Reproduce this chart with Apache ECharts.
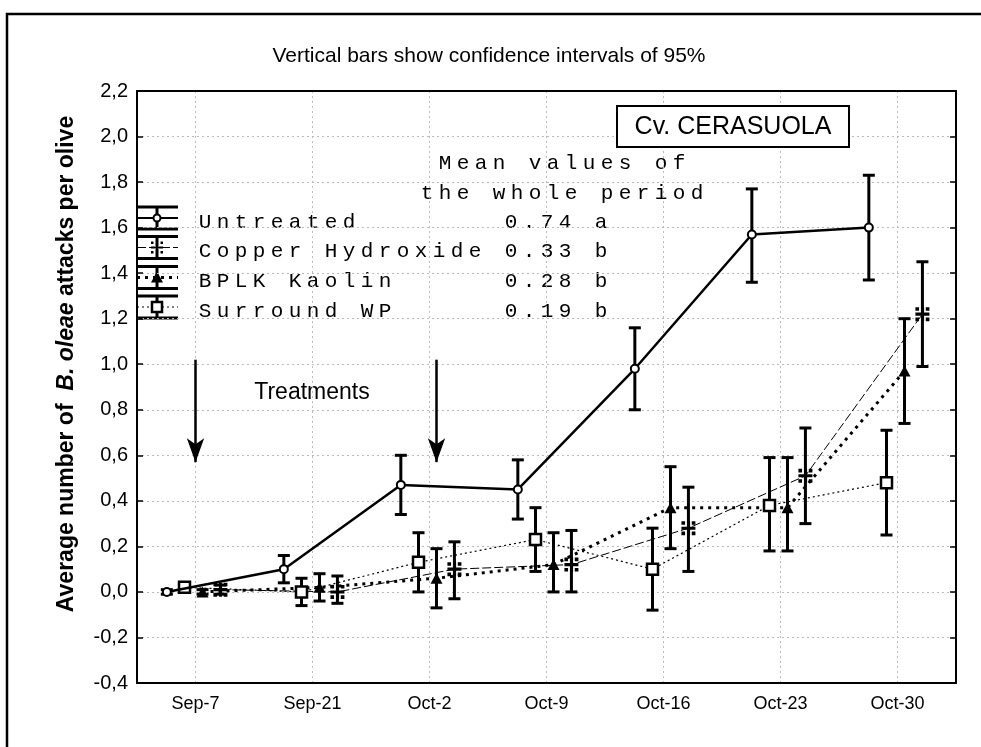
<!DOCTYPE html>
<html>
<head>
<meta charset="utf-8">
<script src="https://cdn.jsdelivr.net/npm/echarts@6/dist/echarts.min.js"></script>
<style>
html, body { margin: 0; padding: 0; background: #fff; }
#chart { width: 981px; height: 747px; }
</style>
</head>
<body>
<div id="chart"></div>
<script>
// sampling dates
var dates = ['Sep-7', 'Sep-21', 'Oct-2', 'Oct-9', 'Oct-16', 'Oct-23', 'Oct-30']

// mean attacks per olive and 95% CI bounds
var untreated = [0.00, 0.10, 0.47, 0.45, 0.98, 1.57, 1.60]
var untreatedLo = [-0.01, 0.04, 0.34, 0.32, 0.80, 1.36, 1.37]
var untreatedHi = [0.01, 0.16, 0.60, 0.58, 1.16, 1.77, 1.83]

var copper = [0.01, 0.00, 0.10, 0.12, 0.28, 0.51, 1.22]
var copperLo = [-0.01, -0.05, -0.03, 0.00, 0.09, 0.30, 0.99]
var copperHi = [0.03, 0.07, 0.22, 0.27, 0.46, 0.72, 1.45]

var kaolin = [0.00, 0.02, 0.06, 0.12, 0.37, 0.37, 0.97]
var kaolinLo = [-0.01, -0.04, -0.07, 0.00, 0.19, 0.18, 0.74]
var kaolinHi = [0.01, 0.08, 0.19, 0.26, 0.55, 0.59, 1.20]

var surround = [0.02, 0.00, 0.13, 0.23, 0.10, 0.38, 0.48]
var surroundLo = [0.00, -0.06, 0.00, 0.09, -0.08, 0.18, 0.25]
var surroundHi = [0.04, 0.06, 0.26, 0.37, 0.28, 0.59, 0.71]

// legend table: whole-period means
var legendNames = ['Untreated', 'Copper Hydroxide', 'BPLK Kaolin', 'Surround WP']
var legendMeans = ['0.74', '0.33', '0.28', '0.19']
var legendLetters = ['a', 'b', 'b', 'b']

// treatment arrows (category position)
var treatmentAt = [0, 2.06]

var FONT = '"Liberation Sans", Arial, sans-serif'
var MONO = '"Liberation Mono", "Courier New", monospace'

var chart = echarts.init(document.getElementById('chart'), null, { renderer: 'canvas' })

function points (vals, off) {
  return vals.map(function (v, i) { return [i + off, v] })
}

function errorSeries (lo, hi, off) {
  return {
    type: 'custom',
    xAxisIndex: 1,
    z: 3,
    silent: true,
    encode: { x: 0, y: [1, 2] },
    data: lo.map(function (v, i) { return [i + off, v, hi[i]] }),
    renderItem: function (params, api) {
      var x = api.value(0)
      var a = api.coord([x, api.value(1)])
      var b = api.coord([x, api.value(2)])
      var hw = 6
      var st = { stroke: '#000', lineWidth: 3 }
      return {
        type: 'group',
        children: [
          { type: 'line', shape: { x1: a[0], y1: a[1], x2: b[0], y2: b[1] }, style: st },
          { type: 'line', shape: { x1: a[0] - hw, y1: a[1], x2: a[0] + hw, y2: a[1] }, style: st },
          { type: 'line', shape: { x1: b[0] - hw, y1: b[1], x2: b[0] + hw, y2: b[1] }, style: st }
        ]
      }
    }
  }
}

var crossPath = 'path://M4,0H6.2V3.9H10V6.1H6.2V10H4V6.1H0V3.9H4Z M0,0H2.6V2.6H0Z M7.4,0H10V2.6H7.4Z M0,7.4H2.6V10H0Z M7.4,7.4H10V10H7.4Z'

// offsets of each treatment around the date
var offU = -0.245
var offS = -0.094
var offK = 0.06
var offC = 0.213

// legend graphics
function spacedText (str, x0, y, pitch) {
  return str.split('').map(function (ch, i) {
    return {
      type: 'text', x: x0 + i * pitch, y: y, silent: true,
      style: { text: ch, font: '21px ' + MONO, fill: '#000', align: 'center', verticalAlign: 'middle' }
    }
  })
}

var legendStyles = [
  { dash: null, width: 2, marker: 'circle' },
  { dash: [9, 3], width: 1, marker: 'cross' },
  { dash: [3, 5], width: 3, marker: 'triangle' },
  { dash: [2, 3], width: 1.2, marker: 'square' }
]
var legendRowY = [218, 247.5, 277.5, 307]

var graphics = []
graphics.push({
  type: 'rect', shape: { x: 7, y: 14, width: 1100, height: 1000 },
  style: { fill: 'none', stroke: '#000', lineWidth: 2.5 }, silent: true
})
graphics.push({
  type: 'text', x: 489, y: 56,
  style: { text: 'Vertical bars show confidence intervals of 95%', font: '21px ' + FONT, fill: '#000', align: 'center', verticalAlign: 'middle' }
})
graphics.push({
  type: 'text', x: 67, y: 364, rotation: Math.PI / 2,
  style: {
    text: '{a|Average number of  }{b|B. oleae}{a| attacks per olive}',
    align: 'center', verticalAlign: 'middle',
    rich: {
      a: { font: 'bold 23px ' + FONT, fill: '#000' },
      b: { font: 'italic bold 23px ' + FONT, fill: '#000' }
    }
  }
})
graphics.push({
  type: 'rect', shape: { x: 617, y: 106, width: 232, height: 41 },
  style: { fill: '#fff', stroke: '#000', lineWidth: 2 }, z: 10
})
graphics.push({
  type: 'text', x: 733, y: 127, z: 11,
  style: { text: 'Cv. CERASUOLA', font: '25px ' + FONT, fill: '#000', align: 'center', verticalAlign: 'middle' }
})
graphics.push({
  type: 'text', x: 312, y: 393,
  style: { text: 'Treatments', font: '23px ' + FONT, fill: '#000', align: 'center', verticalAlign: 'middle' }
})

var pitch = 18.0
var header1 = 'Mean values of'
var header2 = 'the whole period'
graphics = graphics.concat(spacedText(header1, 562 - (header1.length - 1) / 2 * pitch, 163, pitch))
graphics = graphics.concat(spacedText(header2, 562 - (header2.length - 1) / 2 * pitch, 193, pitch))

legendNames.forEach(function (name, i) {
  var row = name
  while (row.length < 17) row += ' '
  row += legendMeans[i] + ' ' + legendLetters[i]
  var y = legendRowY[i]
  graphics = graphics.concat(spacedText(row, 205, y + 4, pitch))
  var s = legendStyles[i]
  var capStyle = { stroke: '#000', lineWidth: 3 }
  graphics.push({ type: 'line', shape: { x1: 137, y1: y - 11, x2: 178, y2: y - 11 }, style: capStyle })
  graphics.push({ type: 'line', shape: { x1: 137, y1: y + 11, x2: 178, y2: y + 11 }, style: capStyle })
  graphics.push({ type: 'line', shape: { x1: 157, y1: y - 11, x2: 157, y2: y + 11 }, style: capStyle })
  graphics.push({ type: 'line', shape: { x1: 137, y1: y, x2: 178, y2: y }, style: { stroke: '#000', lineWidth: s.width, lineDash: s.dash } })
  if (s.marker === 'circle') {
    graphics.push({ type: 'circle', shape: { cx: 157, cy: y, r: 3.5 }, style: { fill: '#fff', stroke: '#000', lineWidth: 2 } })
  } else if (s.marker === 'square') {
    graphics.push({ type: 'rect', shape: { x: 152, y: y - 5, width: 10, height: 10 }, style: { fill: '#fff', stroke: '#000', lineWidth: 2.5 } })
  } else if (s.marker === 'triangle') {
    graphics.push({ type: 'polygon', shape: { points: [[157, y - 6], [163, y + 5], [151, y + 5]] }, style: { fill: '#000' } })
  } else {
    graphics.push({ type: 'rect', shape: { x: 151, y: y - 1.5, width: 12, height: 3 }, style: { fill: '#fff' } })
    graphics.push({ type: 'rect', shape: { x: 151, y: y - 1, width: 12, height: 2 }, style: { fill: '#000' } })
    graphics.push({ type: 'rect', shape: { x: 156, y: y - 6, width: 2, height: 12 }, style: { fill: '#000' } })
    graphics.push({ type: 'rect', shape: { x: 151, y: y - 6, width: 2.5, height: 2.5 }, style: { fill: '#000' } })
    graphics.push({ type: 'rect', shape: { x: 160.5, y: y - 6, width: 2.5, height: 2.5 }, style: { fill: '#000' } })
    graphics.push({ type: 'rect', shape: { x: 151, y: y + 3.5, width: 2.5, height: 2.5 }, style: { fill: '#000' } })
    graphics.push({ type: 'rect', shape: { x: 160.5, y: y + 3.5, width: 2.5, height: 2.5 }, style: { fill: '#000' } })
  }
})

var gridLine = { show: true, alignWithLabel: true, lineStyle: { color: '#bbb', type: [2, 3], width: 1 } }
var frameLine = { show: true, onZero: false, lineStyle: { color: '#000', width: 2 } }

var option = {
  backgroundColor: '#fff',
  animation: false,
  textStyle: { fontFamily: FONT },
  grid: {
    left: 137, top: 91, right: 25, bottom: 64
  },
  xAxis: [
    {
      type: 'category',
      data: dates,
      boundaryGap: true,
      axisLine: frameLine,
      axisTick: { inside: true, alignWithLabel: true, length: 6, lineStyle: { color: '#000', width: 1.5 } },
      axisLabel: { color: '#000', fontSize: 18, fontFamily: FONT, margin: 12 },
      splitLine: gridLine
    },
    { type: 'value', min: -0.5, max: 6.5, show: false },
    {
      type: 'category', data: dates, position: 'top',
      axisLine: frameLine,
      axisTick: { show: false }, axisLabel: { show: false }, splitLine: { show: false }
    }
  ],
  yAxis: [
    {
      type: 'value', min: -0.4, max: 2.2, interval: 0.2,
      axisLine: frameLine,
      axisTick: { show: true, inside: true, length: 6, lineStyle: { color: '#000', width: 1.5 } },
      axisLabel: {
        color: '#000', fontSize: 20, fontFamily: FONT, margin: 9,
        formatter: function (v) { return v.toFixed(1).replace('.', ',') }
      },
      splitLine: { show: true, lineStyle: { color: '#bbb', type: [2, 3], width: 1 } }
    },
    {
      type: 'value', min: -0.4, max: 2.2, interval: 0.2, position: 'right',
      axisLine: frameLine,
      axisTick: { show: true, inside: true, length: 6, lineStyle: { color: '#000', width: 1.5 } },
      axisLabel: { show: false },
      splitLine: { show: false }
    }
  ],
  graphic: { elements: graphics },
  series: [
    errorSeries(untreatedLo, untreatedHi, offU),
    errorSeries(surroundLo, surroundHi, offS),
    errorSeries(kaolinLo, kaolinHi, offK),
    errorSeries(copperLo, copperHi, offC),
    {
      name: 'Surround WP', type: 'line', xAxisIndex: 1, z: 4,
      data: points(surround, offS),
      symbol: 'rect', symbolSize: 11,
      itemStyle: { color: '#fff', borderColor: '#000', borderWidth: 2.5 },
      lineStyle: { color: '#000', width: 1.2, type: [2, 3] }
    },
    {
      name: 'Copper Hydroxide', type: 'line', xAxisIndex: 1, z: 4,
      data: points(copper, offC),
      symbol: crossPath, symbolSize: 14,
      itemStyle: { color: '#000', borderWidth: 0 },
      lineStyle: { color: '#000', width: 1, type: [9, 3] }
    },
    {
      name: 'BPLK Kaolin', type: 'line', xAxisIndex: 1, z: 4,
      data: points(kaolin, offK),
      symbol: 'triangle', symbolSize: [12, 11],
      itemStyle: { color: '#000', borderWidth: 0 },
      lineStyle: { color: '#000', width: 3, type: [3, 5] }
    },
    {
      name: 'Untreated', type: 'line', xAxisIndex: 1, z: 5,
      data: points(untreated, offU),
      symbol: 'circle', symbolSize: 8,
      itemStyle: { color: '#fff', borderColor: '#000', borderWidth: 2 },
      lineStyle: { color: '#000', width: 2.5 },
      markLine: {
        silent: true,
        symbol: ['none', 'arrow'],
        symbolSize: [13, 24],
        label: { show: false },
        lineStyle: { color: '#000', width: 2.5, type: 'solid' },
        data: treatmentAt.map(function (x) {
          return [{ coord: [x, 1.02] }, { coord: [x, 0.57] }]
        })
      }
    }
  ]
}

chart.setOption(option)
</script>
</body>
</html>
